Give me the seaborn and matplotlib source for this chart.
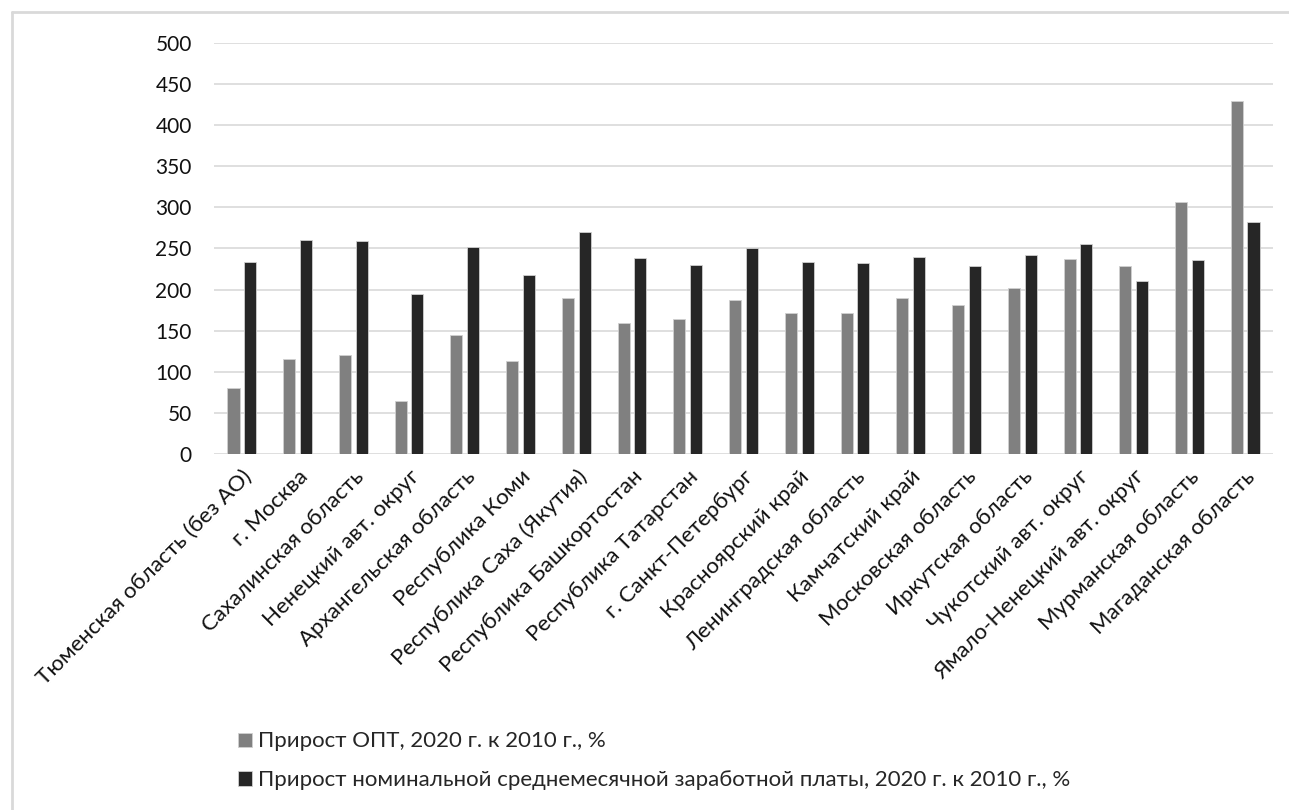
import pandas as pd
import numpy as np
import matplotlib
matplotlib.use('Agg')
import matplotlib.pyplot as plt
import seaborn as sns

# regions (x axis categories)
regions = [
    'Тюменская область (без АО)', 'г. Москва', 'Сахалинская область',
    'Ненецкий авт. округ', 'Архангельская область', 'Республика Коми',
    'Республика Саха (Якутия)', 'Республика Башкортостан', 'Республика Татарстан',
    'г. Санкт-Петербург', 'Красноярский край', 'Ленинградская область',
    'Камчатский край', 'Московская область', 'Иркутская область',
    'Чукотский авт. округ', 'Ямало-Ненецкий авт. округ', 'Мурманская область',
    'Магаданская область',
]

# values, %
opt_growth = [80, 116, 120, 65, 145, 113, 190, 159, 164, 187, 171, 171, 190,
              181, 202, 237, 229, 306, 429]
wage_growth = [233, 260, 259, 195, 252, 218, 270, 238, 230, 251, 234, 232, 240,
               229, 242, 256, 211, 236, 282]

series_names = ['Прирост ОПТ, 2020 г. к 2010 г., %',
                'Прирост номинальной среднемесячной заработной платы, 2020 г. к 2010 г., %']
y_ticks = [0, 50, 100, 150, 200, 250, 300, 350, 400, 450, 500]

df = pd.DataFrame({
    'region': regions * 2,
    'value': opt_growth + wage_growth,
    'series': [series_names[0]] * len(regions) + [series_names[1]] * len(regions),
})

sns.set_theme(style='white')
plt.rcParams['font.family'] = ['Lato', 'DejaVu Sans']

fig = plt.figure(figsize=(12.89, 8.10), dpi=100)
ax = fig.add_axes([0.166, 0.4395, 0.8216, 0.5075])

sns.barplot(data=df, x='region', y='value', hue='series',
            palette=['#808080', '#262626'], width=0.6, gap=0.28,
            edgecolor='#d0d0d0', linewidth=0.6, ax=ax, legend=True)

ax.set_ylim(0, 500)
ax.set_yticks(y_ticks)
ax.set_xlim(-0.5, len(regions) - 0.5)
ax.yaxis.grid(True, color='#d9d9d9', linewidth=1.2)
ax.set_axisbelow(True)
for s in ax.spines.values():
    s.set_visible(False)
ax.set_xlabel('')
ax.set_ylabel('')
ax.tick_params(axis='y', length=0, pad=16, labelsize=15, labelcolor='#111111')
ax.tick_params(axis='x', length=0, pad=9, labelsize=16, labelcolor='#111111')
plt.setp(ax.get_xticklabels(), rotation=45, ha='right', rotation_mode='anchor')

# legend below the chart
handles, labels = ax.get_legend_handles_labels()
ax.get_legend().remove()
fig.legend(handles, labels, loc='upper left', bbox_to_anchor=(0.178, 0.108),
           frameon=False, fontsize=16, handlelength=0.6, handleheight=0.6,
           handletextpad=0.3, labelspacing=0.85, borderaxespad=0)

# light frame around the chart area (only top and left visible)
fig.add_artist(plt.Line2D([12 / 1289, 1], [1 - 12 / 810] * 2, color='#d9d9d9', lw=2))
fig.add_artist(plt.Line2D([12 / 1289] * 2, [0, 1 - 12 / 810], color='#d9d9d9', lw=2))

fig.savefig('out.png', dpi=100)
